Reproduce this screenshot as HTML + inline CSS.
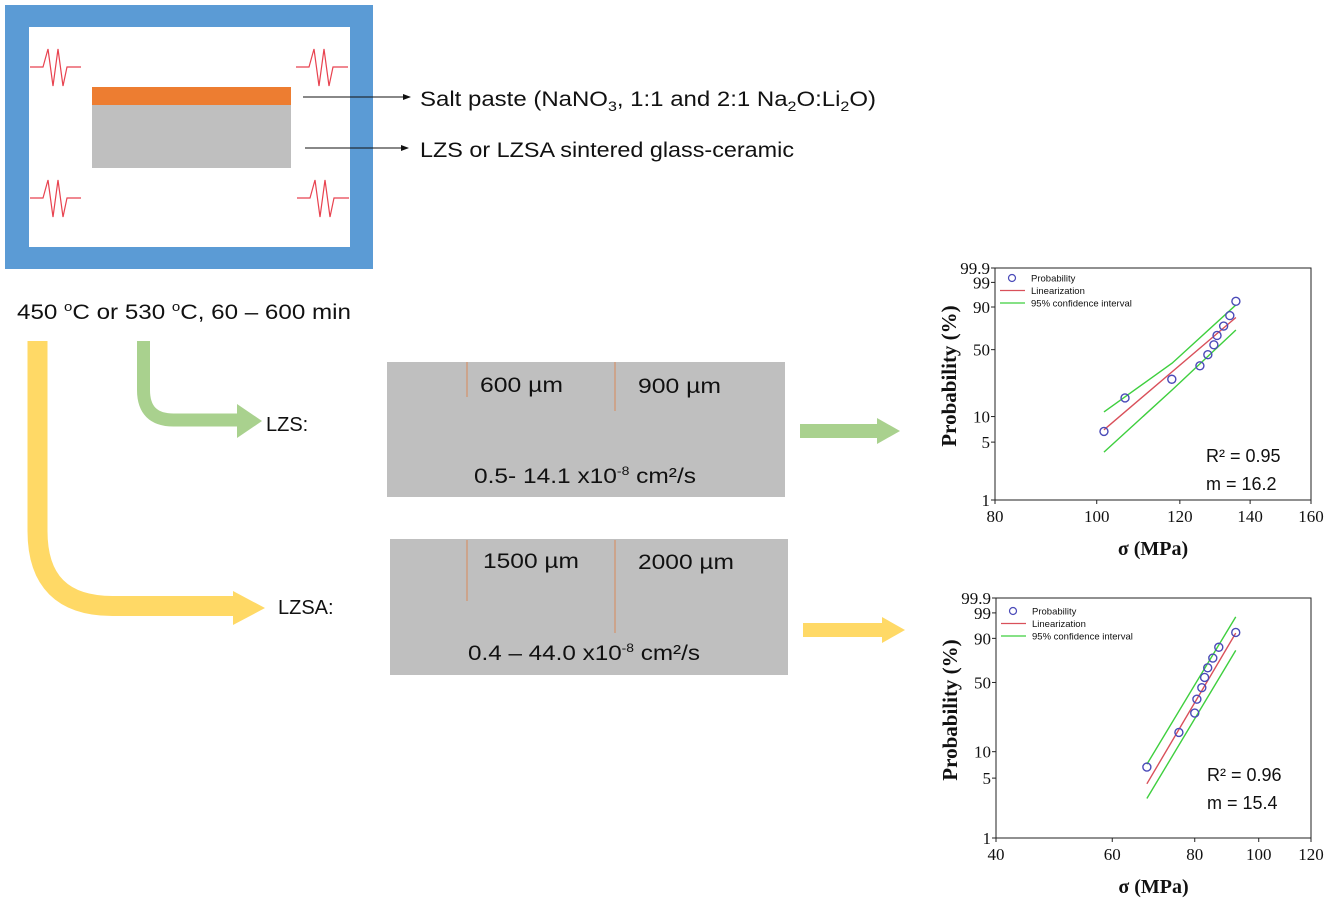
<!DOCTYPE html>
<html><head><meta charset="utf-8"><style>
html,body{margin:0;padding:0;background:#fff;width:1333px;height:907px;overflow:hidden}
svg{display:block}
.t{font-family:"Liberation Sans",sans-serif;fill:#111}
.s{font-family:"Liberation Serif",serif;fill:#111}
</style></head><body>
<svg id="root" width="1333" height="907" viewBox="0 0 1333 907">
<defs>
<marker id="ah" markerWidth="8" markerHeight="8" refX="7" refY="4" orient="auto"><path d="M0,1 L8,4 L0,7 z" fill="#111"/></marker>
</defs>
<g>
<rect x="5" y="5" width="368" height="264" fill="#5b9bd5"/>
<rect x="29" y="27" width="321" height="220" fill="#fff"/>
<rect x="92" y="87" width="199" height="18" fill="#ed7d31"/>
<rect x="92" y="105" width="199" height="63" fill="#bfbfbf"/>
<g fill="none" stroke="#e8424f" stroke-width="1.2">
<path d="M30,67 H43 L48,49 L53,86 L58,49 L63,86 L67,67 H81"/>
<path d="M296,67 H309 L314,49 L319,86 L324,49 L329,86 L333,67 H348"/>
<path d="M30,198 H43 L48,180 L53,217 L58,180 L63,217 L67,198 H81"/>
<path d="M297,198 H310 L315,180 L320,217 L325,180 L330,217 L334,198 H349"/>
</g>
<line x1="303" y1="97" x2="410" y2="97" stroke="#111" stroke-width="1" marker-end="url(#ah)"/>
<line x1="305" y1="148" x2="408" y2="148" stroke="#111" stroke-width="1" marker-end="url(#ah)"/>
<text class="t" x="420" y="106" font-size="21" textLength="456" lengthAdjust="spacingAndGlyphs">Salt paste (NaNO<tspan font-size="14" dy="5">3</tspan><tspan dy="-5">, 1:1 and 2:1 Na</tspan><tspan font-size="14" dy="5">2</tspan><tspan dy="-5">O:Li</tspan><tspan font-size="14" dy="5">2</tspan><tspan dy="-5">O)</tspan></text>
<text class="t" x="420" y="157" font-size="21" textLength="374" lengthAdjust="spacingAndGlyphs">LZS or LZSA sintered glass-ceramic</text>
<text class="t" x="17" y="319" font-size="21" textLength="334" lengthAdjust="spacingAndGlyphs">450 <tspan font-size="13" dy="-8">o</tspan><tspan dy="8">C or 530 </tspan><tspan font-size="13" dy="-8">o</tspan><tspan dy="8">C, 60 – 600 min</tspan></text>
</g>
<g>
<path d="M143.5,341 V390 Q143.5,420 173.5,420 H238" fill="none" stroke="#a9d18e" stroke-width="13"/>
<path d="M237,404 L262,421 L237,438 z" fill="#a9d18e"/>
<path d="M37.5,341 V531 Q37.5,606 112.5,606 H234" fill="none" stroke="#ffd966" stroke-width="20"/>
<path d="M233,591 L265,608 L233,625 z" fill="#ffd966"/>
<text class="t" x="266" y="431" font-size="20">LZS:</text>
<text class="t" x="278" y="614" font-size="20">LZSA:</text>
<rect x="800" y="424" width="78" height="14" fill="#a9d18e"/>
<path d="M877,418 L900,431 L877,444 z" fill="#a9d18e"/>
<rect x="803" y="623" width="80" height="14" fill="#ffd966"/>
<path d="M882,617 L905,630 L882,643 z" fill="#ffd966"/>
</g>
<g>
<rect x="387" y="362" width="398" height="135" fill="#bfbfbf"/>
<line x1="467" y1="362" x2="467" y2="397" stroke="#d4926a" stroke-width="1.2"/>
<line x1="615" y1="362" x2="615" y2="411" stroke="#d4926a" stroke-width="1.2"/>
<text class="t" x="480" y="392" font-size="21" textLength="83" lengthAdjust="spacingAndGlyphs">600 µm</text>
<text class="t" x="638" y="393" font-size="21" textLength="83" lengthAdjust="spacingAndGlyphs">900 µm</text>
<text class="t" x="474" y="483" font-size="21" textLength="222" lengthAdjust="spacingAndGlyphs">0.5- 14.1 x10<tspan font-size="12" dy="-8">-8</tspan><tspan dy="8"> cm²/s</tspan></text>
</g>
<g>
<rect x="390" y="539" width="398" height="136" fill="#bfbfbf"/>
<line x1="467" y1="540" x2="467" y2="601" stroke="#d4926a" stroke-width="1.2"/>
<line x1="615" y1="540" x2="615" y2="633" stroke="#d4926a" stroke-width="1.2"/>
<text class="t" x="483" y="568" font-size="21" textLength="96" lengthAdjust="spacingAndGlyphs">1500 µm</text>
<text class="t" x="638" y="569" font-size="21" textLength="96" lengthAdjust="spacingAndGlyphs">2000 µm</text>
<text class="t" x="468" y="660" font-size="21" textLength="232" lengthAdjust="spacingAndGlyphs">0.4 – 44.0 x10<tspan font-size="12" dy="-8">-8</tspan><tspan dy="8"> cm²/s</tspan></text>
</g>
<g id="c1"></g>
<g id="c2"></g>
</svg>
<script>
// ---- LZS chart data ----
const lzsStress = [101.6, 106.4, 117.9, 125.4, 127.6, 129.3, 130.2, 132.1, 133.9, 135.7];
const lzsProb = [6.7, 16.3, 26.0, 35.6, 45.2, 54.8, 64.4, 74.0, 83.6, 93.3];
const lzsFitX = [101.6, 135.7];
const lzsFitP = [7.0, 82.0];
const lzsUpperX = [101.6, 118, 135.7];
const lzsUpperP = [11.3, 37.8, 91.3];
const lzsLowerX = [101.6, 118, 135.7];
const lzsLowerP = [3.8, 20.0, 70.0];
const lzsXTicks = [80, 100, 120, 140, 160];
const lzsStats = ["R² = 0.95", "m = 16.2"];
// ---- LZSA chart data ----
const lzsaStress = [67.7, 75.7, 80.0, 80.6, 82.0, 82.8, 83.7, 85.2, 87.0, 92.3];
const lzsaProb = [6.7, 16.3, 26.0, 35.6, 45.2, 54.8, 64.4, 74.0, 83.6, 93.3];
const lzsaFitX = [67.7, 92.3];
const lzsaFitP = [4.3, 93.0];
const lzsaUpperX = [67.7, 92.3];
const lzsaUpperP = [7.2, 98.4];
const lzsaLowerX = [67.7, 92.3];
const lzsaLowerP = [2.9, 81.0];
const lzsaXTicks = [40, 60, 80, 100, 120];
const lzsaStats = ["R² = 0.96", "m = 15.4"];
// shared
const yTicks = [1, 5, 10, 50, 90, 99, 99.9];

const NS = "http://www.w3.org/2000/svg";
function mk(parent, tag, attrs, text) {
  const e = document.createElementNS(NS, tag);
  for (const k in attrs) e.setAttribute(k, attrs[k]);
  if (text !== undefined) e.textContent = text;
  parent.appendChild(e);
  return e;
}
const W = p => Math.log(-Math.log(1 - p / 100));

function chart(gid, box, xT, sX, sP, fX, fP, uX, uP, lX, lP, stats, legY, statY) {
  const g = document.getElementById(gid);
  const xmin = xT[0], xmax = xT[xT.length - 1];
  const sx = v => box.x0 + (Math.log(v) - Math.log(xmin)) / (Math.log(xmax) - Math.log(xmin)) * (box.x1 - box.x0);
  const wTop = W(99.9), wBot = W(1);
  const sy = p => box.y0 + (wTop - W(p)) / (wTop - wBot) * (box.y1 - box.y0);
  const frame = mk(g, "rect", {x: box.x0, y: box.y0, width: box.x1 - box.x0, height: box.y1 - box.y0, fill: "none", stroke: "#222", "stroke-width": 1});
  
  
  xT.forEach(v => {
    const x = sx(v);
    mk(g, "line", {x1: x, x2: x, y1: box.y1, y2: box.y1 + 4, stroke: "#222"});
    const t = mk(g, "text", {x: x, y: box.y1 + 22, "font-size": 17, "text-anchor": "middle", class: "s"}, v);
    
    
  });
  yTicks.forEach(v => {
    const y = sy(v);
    mk(g, "line", {x1: box.x0 - 4, x2: box.x0, y1: y, y2: y, stroke: "#222"});
    const t = mk(g, "text", {x: box.x0 - 5, y: y + 6, "font-size": 17, "text-anchor": "end", class: "s"}, v);
    
    
  });
  const pts = (X, P) => X.map((v, i) => sx(v) + "," + sy(P[i])).join(" ");
  const up = mk(g, "polyline", {points: pts(uX, uP), fill: "none", stroke: "#3ecf3e", "stroke-width": 1.4});
  
  
  const lo = mk(g, "polyline", {points: pts(lX, lP), fill: "none", stroke: "#3ecf3e", "stroke-width": 1.4});
  
  
  const fit = mk(g, "polyline", {points: pts(fX, fP), fill: "none", stroke: "#d9505a", "stroke-width": 1.4});
  
  
  sX.forEach((v, i) => {
    const c = mk(g, "circle", {cx: sx(v), cy: sy(sP[i]), r: 4, fill: "none", stroke: "#4a4ab8", "stroke-width": 1.4});
    
    
  });
  // legend
  const lx = box.x0 + 5;
  const lc = mk(g, "circle", {cx: lx + 12, cy: legY, r: 3.5, fill: "none", stroke: "#4a4ab8", "stroke-width": 1.2});
  
  
  const names = ["Probability", "Linearization", "95% confidence interval"];
  [null, "#d9505a", "#3ecf3e"].forEach((col, i) => {
    const y = legY + i * 12.5;
    if (col) mk(g, "line", {x1: lx, x2: lx + 25, y1: y, y2: y, stroke: col, "stroke-width": 1.2});
    const t = mk(g, "text", {x: lx + 31, y: y + 3.5, "font-size": 9.5, class: "t"}, names[i]);
    
    
  });
  stats.forEach((s, i) => {
    const t = mk(g, "text", {x: box.x0 + 211, y: statY + i * 28, "font-size": 18, class: "t"}, s);
    
    
  });
  const xl = mk(g, "text", {x: (box.x0 + box.x1) / 2, y: box.y1 + 55, "font-size": 20, "font-weight": "bold", "text-anchor": "middle", class: "s"}, "σ (MPa)");
  
  
  const cy = (box.y0 + box.y1) / 2 - 8;
  const yl = mk(g, "text", {x: 0, y: 0, transform: "translate(" + (box.x0 - 39) + "," + cy + ") rotate(-90)", "font-size": 21, "font-weight": "bold", "text-anchor": "middle", class: "s"}, "Probability (%)");
  
  
}
chart("c1", {x0: 995, x1: 1311, y0: 268, y1: 500}, lzsXTicks, lzsStress, lzsProb, lzsFitX, lzsFitP, lzsUpperX, lzsUpperP, lzsLowerX, lzsLowerP, lzsStats, 278, 462);
chart("c2", {x0: 996, x1: 1311, y0: 598, y1: 838}, lzsaXTicks, lzsaStress, lzsaProb, lzsaFitX, lzsaFitP, lzsaUpperX, lzsaUpperP, lzsaLowerX, lzsaLowerP, lzsaStats, 611, 781);
</script>
</body></html>
